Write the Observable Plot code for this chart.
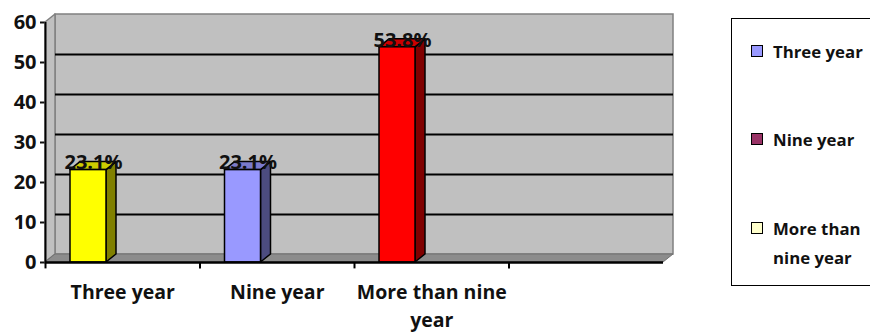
<!DOCTYPE html>
<html>
<head>
<meta charset="utf-8">
<script src="https://cdn.jsdelivr.net/npm/d3@7"></script>
<script src="https://cdn.jsdelivr.net/npm/@observablehq/plot@0.6"></script>
<style>
  html, body { margin: 0; padding: 0; background: #fff; }
  #wrap { position: relative; width: 870px; height: 334px; overflow: hidden; font-family: "Open Sans", sans-serif; }
  #wrap svg { position: absolute; left: 0; top: 0; }
  svg [aria-label="y-axis tick"] { stroke-width: 2; }
  #legend { position: absolute; left: 731px; top: 18px; width: 160px; height: 268px; border: 1.5px solid #000; box-sizing: border-box; background: #fff; }
  .item { position: absolute; left: 41px; font-weight: bold; font-size: 16.8px; line-height: 29px; color: #111; white-space: nowrap; }
  .sw { position: absolute; left: -22px; width: 10px; height: 10px; border: 1.5px solid #000; }
</style>
</head>
<body>
<div id="wrap"></div>
<script>
// ---- data ----
const categories = ["Three year", "Nine year", "More than nine year"];
const categoryLabels = ["Three year", "Nine year", "More than nine\nyear"];
const values = [23.1, 23.1, 53.8];
const valueLabels = ["23.1%", "23.1%", "53.8%"];
const yTicks = [0, 10, 20, 30, 40, 50, 60];
const barColors = ["#FFFF00", "#9999FF", "#FF0000"];
const sideColors = ["#808000", "#4C4C80", "#800000"];
const topColors = ["#CCCC00", "#7A7ACC", "#CC0000"];
const legendLabels = ["Three year", "Nine year", "More than\nnine year"];
const legendColors = ["#9999FF", "#993366", "#FFFFCC"];

// ---- layout constants (style only) ----
const nBands = 4;          // three categories + one empty slot
const D = 10 / 154.5;      // depth in x units (10px)
const DY = 2;              // depth in y units (8px)
const off = 25 / 154.5;    // bar offset inside its band
const bw = 36 / 154.5;     // bar front width
const F = "'Open Sans', sans-serif";

const bars = values.map((v, i) => ({i, v, x1: i + off, x2: i + off + bw, label: valueLabels[i]}));
const sides = bars.flatMap(b => [
  {i: b.i, x: b.x2, y1: 0, y2: b.v},
  {i: b.i, x: b.x2 + D, y1: DY, y2: b.v + DY}
]);
const tops = bars.flatMap(b => [
  {i: b.i, y: b.v, x1: b.x1, x2: b.x2},
  {i: b.i, y: b.v + DY, x1: b.x1 + D, x2: b.x2 + D}
]);
const floor = [{y: 0, x1: 0, x2: nBands}, {y: DY, x1: D, x2: nBands + D}];
const leftWall = [{x: 0, y1: 0, y2: 60}, {x: D, y1: DY, y2: 62}];

const chart = Plot.plot({
  width: 870,
  height: 334,
  marginLeft: 45,
  marginRight: 197,
  marginTop: 14,
  marginBottom: 72,
  style: {fontFamily: F, fontSize: "20px", fontWeight: "bold", color: "#111", background: "transparent"},
  x: {domain: [0, nBands + D], axis: null},
  y: {domain: [0, 62], ticks: yTicks, tickSize: 5, tickPadding: 4, label: null, tickFormat: d => String(d)},
  color: {type: "identity"},
  marks: [
    Plot.rect([0], {x1: D, x2: nBands + D, y1: DY, y2: 62, fill: "#C0C0C0", stroke: "#808080", strokeWidth: 1.5}),
    Plot.areaY(leftWall, {x: "x", y1: "y1", y2: "y2", fill: "#C0C0C0", stroke: "#808080", strokeWidth: 1.5}),
    Plot.areaX(floor, {y: "y", x1: "x1", x2: "x2", fill: "#8C8C8C", stroke: "#707070", strokeWidth: 1}),
    Plot.ruleY(yTicks.filter(t => t > 0 && t < 60), {y: t => t + DY, x1: D, x2: nBands + D, stroke: "#000", strokeWidth: 2}),
    Plot.areaY(sides, {x: "x", y1: "y1", y2: "y2", z: "i", fill: d => sideColors[d.i], stroke: "#000", strokeWidth: 1.5}),
    Plot.areaX(tops, {y: "y", x1: "x1", x2: "x2", z: "i", fill: d => topColors[d.i], stroke: "#000", strokeWidth: 1.5}),
    Plot.rect(bars, {x1: "x1", x2: "x2", y1: 0, y2: "v", fill: (d) => barColors[d.i], stroke: "#000", strokeWidth: 1.5}),
    Plot.ruleX([0], {y1: 0, y2: 60, stroke: "#000", strokeWidth: 2}),
    Plot.ruleY([0], {x1: 0, x2: nBands, stroke: "#000", strokeWidth: 2.5}),
    Plot.ruleX(d3.range(nBands), {x: d => d, y1: 0, y2: -1.6, stroke: "#000", strokeWidth: 2}),
    Plot.text(categoryLabels, {x: (d, i) => i + 0.5, y: 0, text: d => d, lineAnchor: "top", dy: 16, lineHeight: 1.45, fontSize: 19.5, fontWeight: "bold", fill: "#111"}),
    Plot.text(bars, {x: d => d.x1 + (bw + D) / 2, y: d => d.v + 1.8, text: "label", fontSize: 20, fontWeight: "bold", fill: "#111"})
  ]
});
document.getElementById("wrap").appendChild(chart);

// legend
const legend = document.createElement("div");
legend.id = "legend";
const itemTops = [18, 106, 195];
legendLabels.forEach((lab, i) => {
  const it = document.createElement("div");
  it.className = "item";
  it.style.top = itemTops[i] + "px";
  const sw = document.createElement("span");
  sw.className = "sw";
  sw.style.top = "8px";
  sw.style.background = legendColors[i];
  it.appendChild(sw);
  lab.split("\n").forEach((line, j) => {
    if (j > 0) it.appendChild(document.createElement("br"));
    it.appendChild(document.createTextNode(line));
  });
  legend.appendChild(it);
});
document.getElementById("wrap").appendChild(legend);
</script>
</body>
</html>
